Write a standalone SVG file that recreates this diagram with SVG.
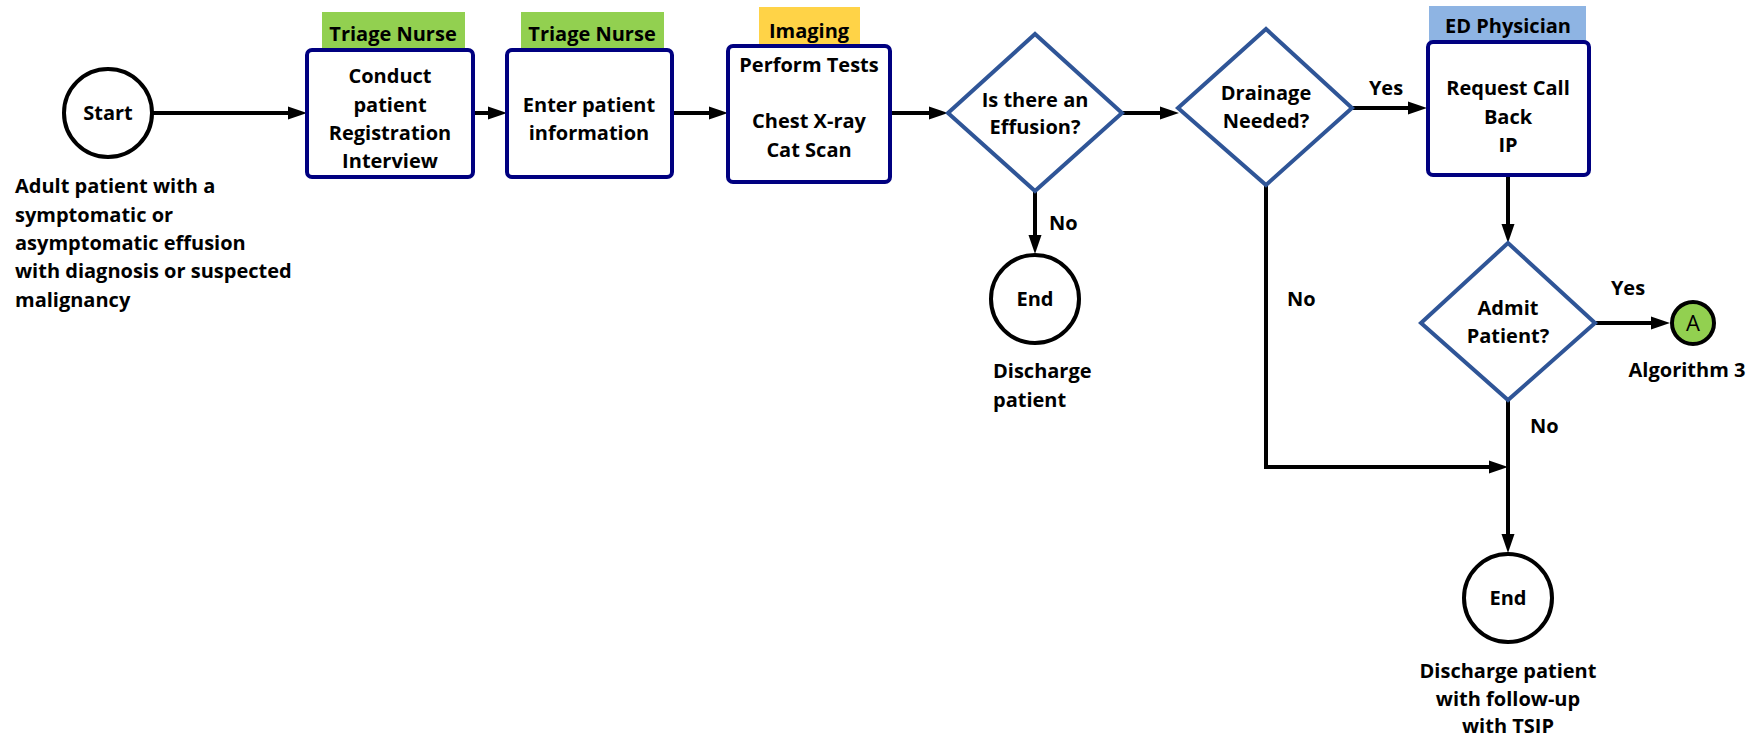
<svg xmlns="http://www.w3.org/2000/svg" width="1764" height="741" viewBox="0 0 1764 741">
<style>
text{font-family:"Open Sans","Liberation Sans",Arial,sans-serif;font-size:20px;font-weight:bold;fill:#000}
.c{text-anchor:middle}
.term{fill:#fff;stroke:#000;stroke-width:4}
.box{fill:#fff;stroke:#000080;stroke-width:4}
.dec{fill:#fff;stroke:#2F5597;stroke-width:4}
.lane-g{fill:#92D050}
.lane-y{fill:#FFD347}
.lane-b{fill:#8EB4E3}
.conn{fill:none;stroke:#000;stroke-width:4;marker-end:url(#arr)}
.line{fill:none;stroke:#000;stroke-width:4}
</style>
<defs>
<marker id="arr" markerUnits="userSpaceOnUse" markerWidth="20" markerHeight="14" refX="4" refY="6.5" orient="auto" overflow="visible">
<path d="M0,0 L19,6.5 L0,13 z" fill="#000"/>
</marker>
</defs>
<rect width="1764" height="741" fill="#fff"/>

<g id="connectors">
<path class="conn" d="M152,113 H292"/>
<path class="conn" d="M473,113 H492"/>
<path class="conn" d="M672,113 H713"/>
<path class="conn" d="M890,113 H933"/>
<path class="conn" d="M1122,113 H1164"/>
<path class="conn" d="M1352,108 H1412"/>
<path class="conn" d="M1035,191 V239"/>
<path class="conn" d="M1266,185 V467 H1493"/>
<path class="conn" d="M1508,175 V228"/>
<path class="conn" d="M1595,323 H1655"/>
<path class="conn" d="M1508,400 V538"/>
<text x="1386" y="95" class="c">Yes</text>
<text x="1049" y="230">No</text>
<text x="1287" y="306">No</text>
<text x="1628" y="295" class="c">Yes</text>
<text x="1530" y="433">No</text>
</g>

<g id="start">
<circle class="term" cx="108" cy="113" r="44"/>
<text x="108" y="120" class="c">Start</text>
<text x="15" y="193">Adult patient with a</text>
<text x="15" y="222">symptomatic or</text>
<text x="15" y="250">asymptomatic effusion</text>
<text x="15" y="278">with diagnosis or suspected</text>
<text x="15" y="307">malignancy</text>
</g>

<g id="registration">
<rect class="lane-g" x="322" y="12" width="143" height="37"/>
<text x="393" y="41" class="c">Triage Nurse</text>
<rect class="box" x="307" y="50" width="166" height="127" rx="5"/>
<text x="390" y="83" class="c">Conduct</text>
<text x="390" y="112" class="c">patient</text>
<text x="390" y="140" class="c">Registration</text>
<text x="390" y="168" class="c">Interview</text>
</g>

<g id="enter-info">
<rect class="lane-g" x="521" y="12" width="143" height="37"/>
<text x="592" y="41" class="c">Triage Nurse</text>
<rect class="box" x="507" y="50" width="165" height="127" rx="5"/>
<text x="589" y="112" class="c">Enter patient</text>
<text x="589" y="140" class="c">information</text>
</g>

<g id="tests">
<rect class="lane-y" x="759" y="7" width="101" height="38"/>
<text x="809" y="38" class="c">Imaging</text>
<rect class="box" x="728" y="46" width="162" height="136" rx="5"/>
<text x="809" y="72" class="c">Perform Tests</text>
<text x="809" y="128" class="c">Chest X-ray</text>
<text x="809" y="157" class="c">Cat Scan</text>
</g>

<g id="effusion">
<polygon class="dec" points="948,113 1035,34 1122,113 1035,191"/>
<text x="1035" y="107" class="c">Is there an</text>
<text x="1035" y="134" class="c">Effusion?</text>
</g>

<g id="drainage">
<polygon class="dec" points="1178,108 1266,29 1352,108 1266,185"/>
<text x="1266" y="100" class="c">Drainage</text>
<text x="1266" y="128" class="c">Needed?</text>
</g>

<g id="callback">
<rect class="lane-b" x="1429" y="6" width="157" height="35"/>
<text x="1508" y="33" class="c">ED Physician</text>
<rect class="box" x="1428" y="42" width="161" height="133" rx="5"/>
<text x="1508" y="95" class="c">Request Call</text>
<text x="1508" y="124" class="c">Back</text>
<text x="1508" y="152" class="c">IP</text>
</g>

<g id="admit">
<polygon class="dec" points="1421,323 1508,243 1595,323 1508,400"/>
<text x="1508" y="315" class="c">Admit</text>
<text x="1508" y="343" class="c">Patient?</text>
</g>

<g id="algorithm3">
<circle cx="1693" cy="323" r="21" fill="#92D050" stroke="#000" stroke-width="4"/>
<text x="1693" y="331" class="c" style="font-weight:normal;font-size:22px">A</text>
<text x="1687" y="377" class="c">Algorithm 3</text>
</g>

<g id="end1">
<circle class="term" cx="1035" cy="299" r="44"/>
<text x="1035" y="306" class="c">End</text>
<text x="993" y="378">Discharge</text>
<text x="993" y="407">patient</text>
</g>

<g id="end2">
<circle class="term" cx="1508" cy="598" r="44"/>
<text x="1508" y="605" class="c">End</text>
<text x="1508" y="678" class="c">Discharge patient</text>
<text x="1508" y="706" class="c">with follow-up</text>
<text x="1508" y="733" class="c">with TSIP</text>
</g>
</svg>
